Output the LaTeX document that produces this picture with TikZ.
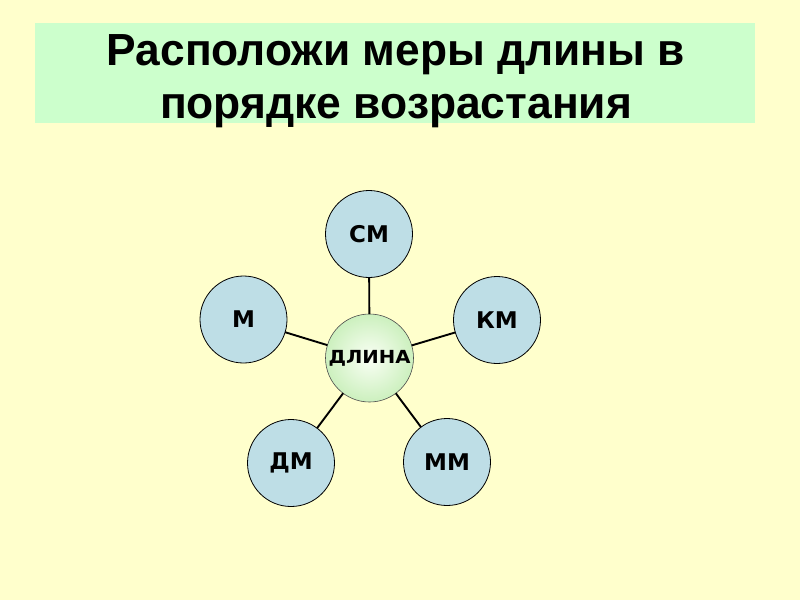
\documentclass[tikz,border=0pt]{standalone}
\usepackage{fontspec}
\usepackage{graphicx}
\setmainfont{Liberation Sans}
\newfontfamily\lblfont{DejaVu Sans}
\definecolor{bgcol}{RGB}{255,255,204}
\definecolor{titlebg}{RGB}{204,255,204}
\definecolor{bluefill}{RGB}{190,222,230}
\definecolor{greenin}{RGB}{250,255,245}
\definecolor{greenout}{RGB}{204,240,190}
\tikzset{
  unit/.style={circle, draw=black, line width=0.8pt, fill=bluefill, minimum size=87pt, inner sep=0pt, outer sep=0pt, font=\lblfont\bfseries\fontsize{23}{23}\selectfont},
  hub/.style={circle, draw=black!70, line width=0.6pt, inner color=greenin, outer color=greenout, minimum size=88pt, inner sep=0pt, outer sep=0pt},
  conn/.style={line width=1.9pt, black},
  titletext/.style={anchor=base, inner sep=0pt, font=\bfseries\fontsize{45}{45}\selectfont}
}
\begin{document}
\begin{tikzpicture}[x=1pt,y=-1pt]
\fill[bgcol] (0,0) rectangle (800,600);
\useasboundingbox (0,0) rectangle (800,600);
\fill[titlebg] (35,23) rectangle (755,123);
\node[titletext] (t1) at (396,65) {\resizebox{578pt}{\height}{Расположи меры длины в}};
\node[titletext] (t2) at (396,118) {\resizebox{472pt}{\height}{порядке возрастания}};
\node[hub] (c) at (369.5,358) {\lblfont\bfseries\fontsize{18}{18}\selectfont\resizebox{82pt}{\height}{ДЛИНА}};
\node[unit] (cm) at (369,234) {СМ};
\node[unit] (m) at (243.5,319.5) {М};
\node[unit] (km) at (497,320) {КМ};
\node[unit] (dm) at (291,463) {ДМ};
\node[unit] (mm) at (447,462) {ММ};
\draw[conn] (cm) -- (c);
\draw[conn] (m) -- (c);
\draw[conn] (km) -- (c);
\draw[conn] (dm) -- (c);
\draw[conn] (mm) -- (c);
\end{tikzpicture}
\end{document}
